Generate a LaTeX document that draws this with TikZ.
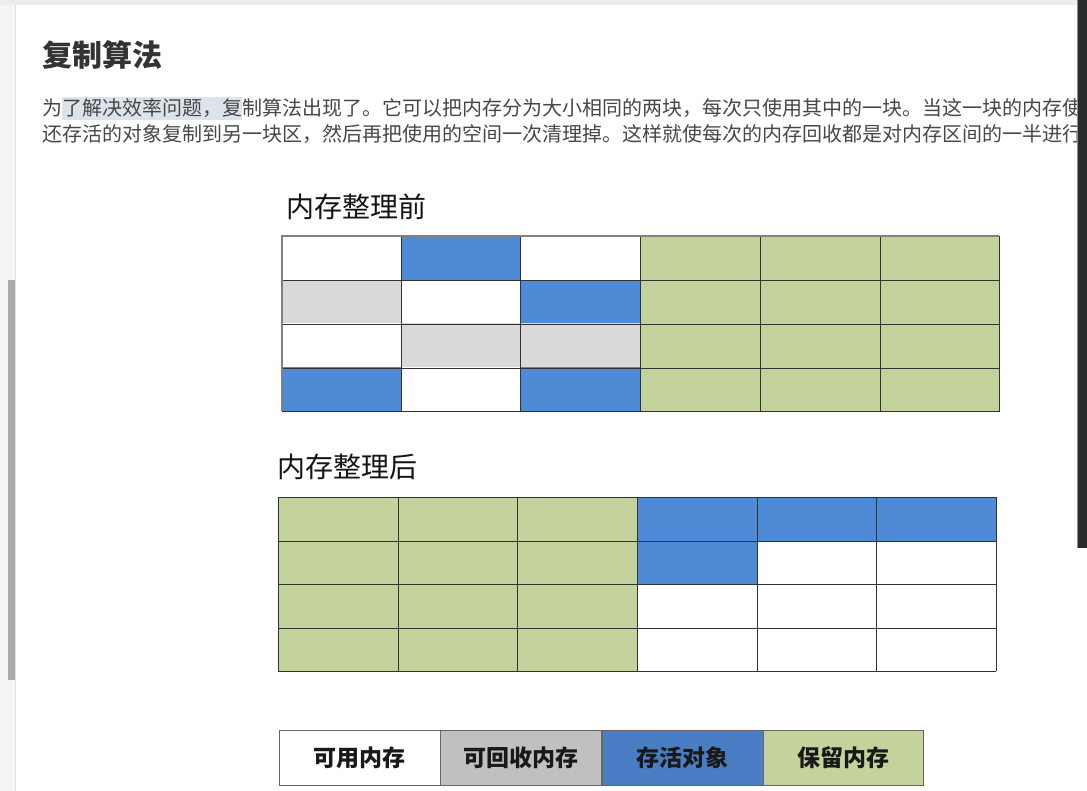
\documentclass[tikz,border=0pt]{standalone}
\usepackage{fontspec}
\newfontfamily\cjk{Noto Sans CJK SC}
\definecolor{cblue}{HTML}{4F8AD6}
\definecolor{lblue}{HTML}{4A7EC4}
\definecolor{cgreen}{HTML}{C4D39C}
\definecolor{cgray}{HTML}{D9D9D9}
\definecolor{lgray}{HTML}{C0C0C0}
\definecolor{hlcol}{HTML}{DDE3EA}
\definecolor{margin}{HTML}{F4F6F4}
\definecolor{panel}{HTML}{2B2B2B}
\tikzset{
  gl/.style={draw=black!80, line width=0.9pt},
  para/.style={anchor=west, inner sep=0pt, text=black!72, font=\cjk\fontsize{20}{24}\selectfont},
  gridlabel/.style={anchor=west, inner sep=0pt, text=black!92, font=\cjk\fontsize{28}{30}\selectfont},
  legendbox/.style={draw=black!60, line width=0.9pt, minimum width=161pt, minimum height=55pt, inner sep=0pt, text=black!90, font=\cjk\bfseries\fontsize{23}{26}\selectfont}
}
\begin{document}
\begin{tikzpicture}[x=1pt,y=-1pt]
\useasboundingbox (0,0) rectangle (1087,791);
\fill[white] (0,0) rectangle (1087,791);
% window chrome
\fill[margin] (0,0) rectangle (15,791);
\draw[black!12, line width=0.8pt] (15,5) -- (15,791);
\fill[black!33] (8,280) rectangle (15,680);
\fill[black!7] (0,0) rectangle (1087,5);
% title
\node[anchor=west, inner sep=0pt, text=black!80, font=\cjk\bfseries\fontsize{30}{34}\selectfont] (title) at (42,55) {复制算法};
% paragraph (its right end lies under the dark panel, as in the screenshot)
\fill[hlcol] (62,97) rectangle (242,120);
\node[para] (p1) at (42,108) {为了解决效率问题，复制算法出现了。它可以把内存分为大小相同的两块，每次只使用其中的一块。当这一块的内存使};
\node[para] (p2) at (42,134) {还存活的对象复制到另一块区，然后再把使用的空间一次清理掉。这样就使每次的内存回收都是对内存区间的一半进行};
\fill[panel] (1077,0) rectangle (1087,548);
\draw[black!45, line width=0.8pt] (1077,0) -- (1077,548);
% before
\node[gridlabel] (lbefore) at (286,207) {内存整理前};
\foreach \c/\r/\k in {1/0/cblue,2/1/cblue,0/3/cblue,2/3/cblue,0/1/cgray,1/2/cgray,2/2/cgray}
  \fill[\k] ({282+\c*119.5},{236+\r*43.75}) rectangle ++(119.5,43.75);
\fill[cgreen] (640,236) rectangle (999,411);
\foreach \x in {401,520,640,760,880} \draw[gl] (\x,236) -- (\x,411);
\foreach \y in {280,324,368} \draw[gl] (282,\y) -- (999,\y);
\draw[gl] (282,411) -- (999,411) -- (999,236);
\draw[black!50, line width=1.6pt] (282,411) -- (282,236) -- (999,236);
% after
\node[gridlabel] (lafter) at (277,467) {内存整理后};
\fill[cgreen] (278,497) rectangle (637,671);
\fill[cblue] (637,497) rectangle (996,541);
\fill[cblue] (637,541) rectangle (757,584);
\foreach \x in {278,398,517,637,757,876,996} \draw[gl] (\x,497) -- (\x,671);
\foreach \y in {497,541,584,628,671} \draw[gl] (278,\y) -- (996,\y);
% legend
\node[legendbox, fill=white] (lg1) at (359.5,757.5) {可用内存};
\node[legendbox, fill=lgray] (lg2) at (521,757.5) {可回收内存};
\node[legendbox, fill=lblue] (lg3) at (682.5,757.5) {存活对象};
\node[legendbox, fill=cgreen, minimum width=160pt] (lg4) at (843,757.5) {保留内存};
\end{tikzpicture}
\end{document}
